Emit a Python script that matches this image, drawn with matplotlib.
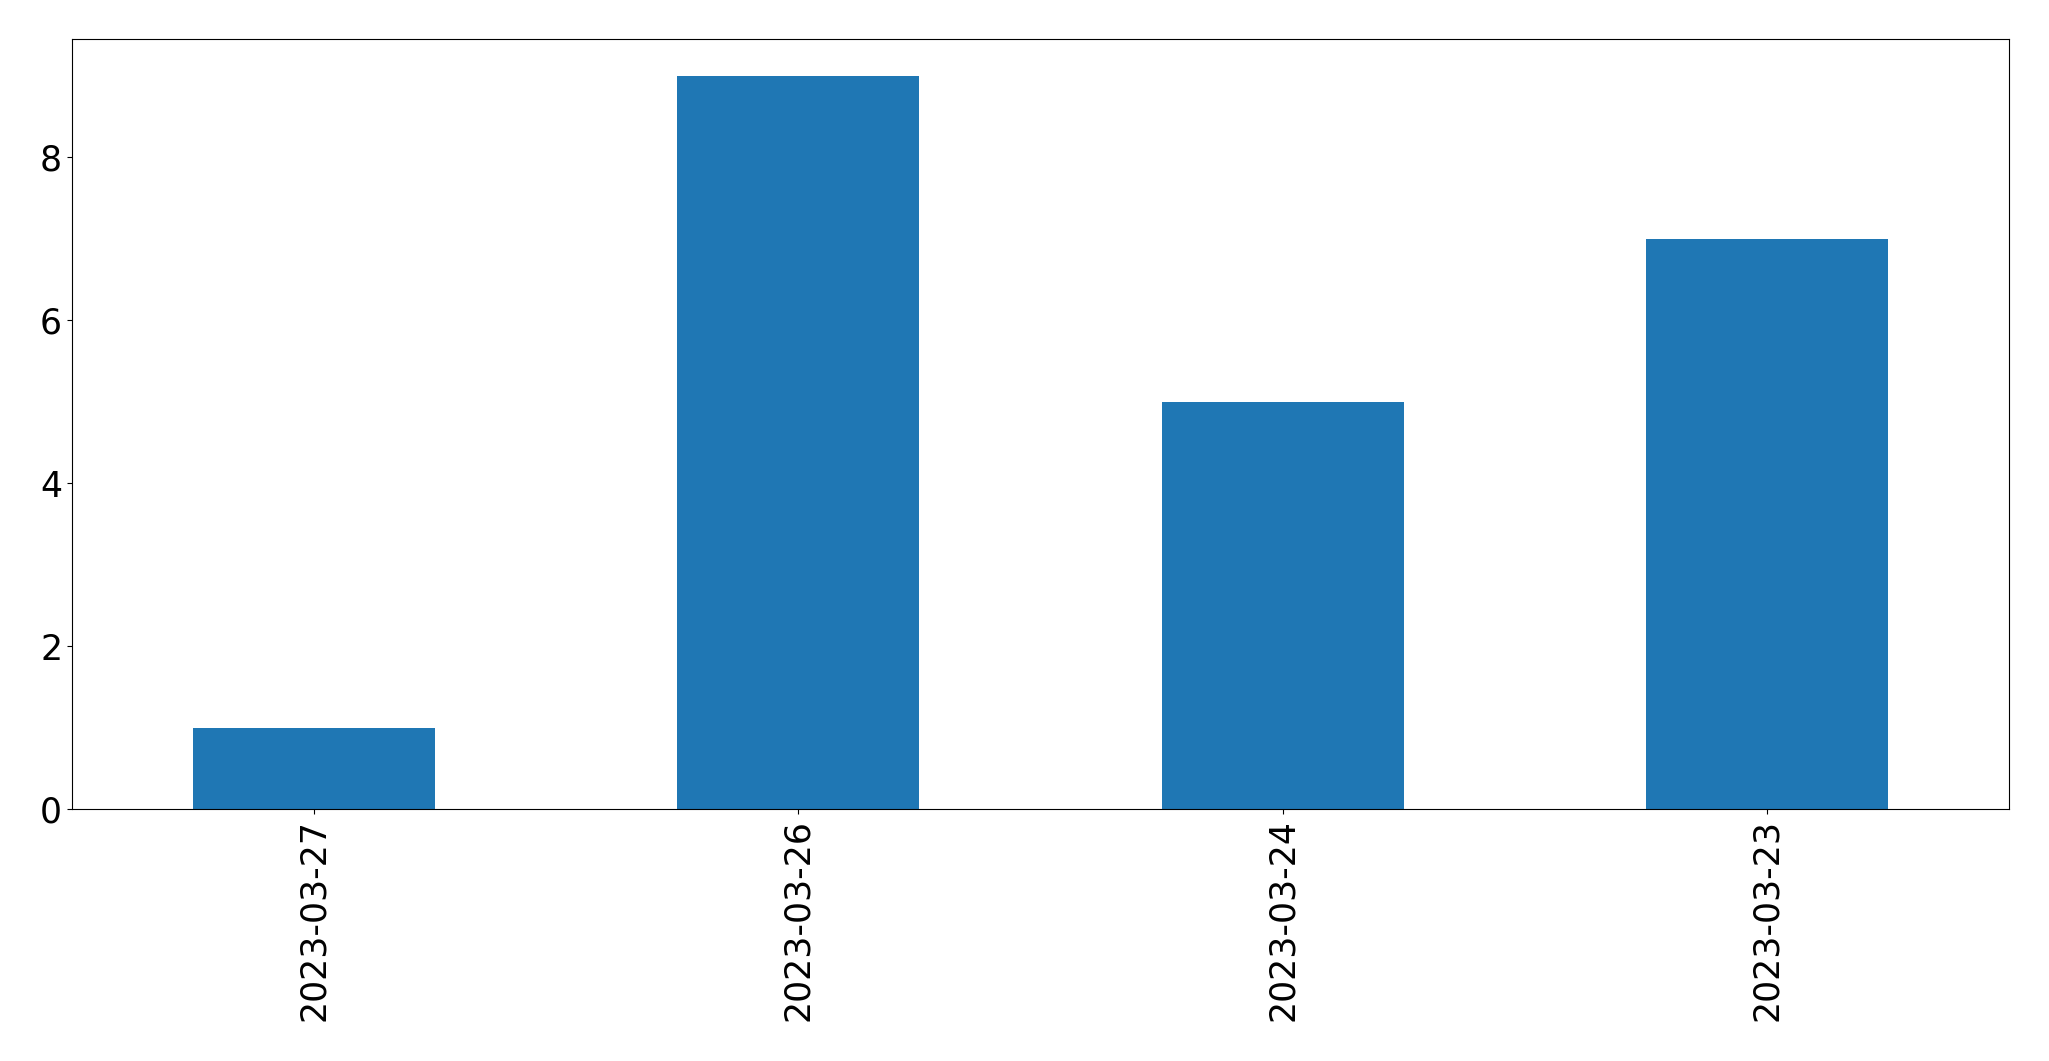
import matplotlib
matplotlib.use('Agg')
from matplotlib import pyplot as plt
import pandas as pd

dates = ['2023-03-27', '2023-03-26', '2023-03-24', '2023-03-23']
counts = [1, 9, 5, 7]

s = pd.Series(counts, index=dates)

fig = plt.figure(figsize=(20.49, 10.61), dpi=100)
ax = fig.add_subplot(111)
s.plot(kind='bar', ax=ax, color='#1f77b4', fontsize=25)
ax.tick_params(axis='both', labelsize=25)
fig.subplots_adjust(left=0.0351, right=0.9805, top=0.9632, bottom=0.2375)
fig.savefig('out.png', dpi=100)
